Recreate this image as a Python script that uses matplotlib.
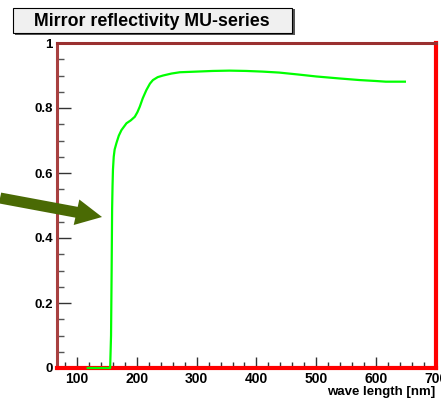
import matplotlib
matplotlib.use("Agg")
import matplotlib.pyplot as plt
from matplotlib.patches import Rectangle, FancyArrow
from matplotlib.ticker import MultipleLocator

plt.rcParams['font.family'] = ['Liberation Sans', 'DejaVu Sans']

# reflectivity curve
wavelength = [118, 150, 155.5, 157, 158, 158.8, 159.5, 160.2, 161.5, 163, 166,
              170, 174.4, 182.8, 190, 196.7, 201, 205, 210, 216, 222, 227, 235,
              244, 258, 272, 300, 327, 355, 383, 410, 438, 470, 500, 538, 572,
              600, 616, 648]
reflectivity = [0.0, 0.0, 0.0, 0.1, 0.3, 0.49, 0.56, 0.61, 0.65, 0.672, 0.692,
                0.715, 0.732, 0.753, 0.762, 0.773, 0.787, 0.804, 0.83, 0.855,
                0.875, 0.886, 0.895, 0.90, 0.906, 0.91, 0.912, 0.914, 0.915,
                0.914, 0.912, 0.909, 0.903, 0.897, 0.891, 0.886, 0.883, 0.881,
                0.881]

x_ticks = [100, 200, 300, 400, 500, 600, 700]
y_ticks = [0, 0.2, 0.4, 0.6, 0.8, 1.0]
y_tick_labels = ['0', '0.2', '0.4', '0.6', '0.8', '1']

W, H = 441, 405
fig = plt.figure(figsize=(W / 100, H / 100), dpi=100)


def fx(px):
    return px / W


def fy(py):
    return 1 - py / H


ax = fig.add_axes([fx(57), fy(368), fx(436) - fx(57), fy(43) - fy(368)])
ax.plot(wavelength, reflectivity, color='#00ff00', lw=1.6, zorder=5, clip_on=False)

ax.set_xlim(66.7, 700)
ax.set_ylim(0, 1)
ax.set_xticks(x_ticks)
ax.set_xticklabels([str(t) for t in x_ticks], fontweight='bold', fontsize=10)
ax.set_yticks(y_ticks)
ax.set_yticklabels(y_tick_labels, fontweight='bold', fontsize=9.5)
ax.xaxis.set_minor_locator(MultipleLocator(20))
ax.yaxis.set_minor_locator(MultipleLocator(0.05))
ax.tick_params(axis='x', which='major', direction='in', length=8, width=1, color='#333333', pad=3)
ax.tick_params(axis='x', which='minor', direction='in', length=4, width=1, color='#333333')
ax.tick_params(axis='y', which='major', direction='in', length=10, width=1, color='#333333', pad=3)
ax.tick_params(axis='y', which='minor', direction='in', length=5, width=1, color='#555555')

ax.spines['left'].set_color('#a84040')
ax.spines['left'].set_linewidth(2.2)
ax.spines['top'].set_color('#9a3030')
ax.spines['top'].set_linewidth(2.2)
ax.spines['right'].set_color('#ff0000')
ax.spines['right'].set_linewidth(3)
ax.spines['bottom'].set_color('#ff0000')
ax.spines['bottom'].set_linewidth(3)

fig.text(fx(435), fy(392), 'wave length [nm]', ha='right', va='center',
         fontweight='bold', fontsize=9.5)

# title box with shadow
fig.patches.append(Rectangle((fx(15), fy(35)), fx(280), fy(8) - fy(34),
                             transform=fig.transFigure, facecolor='#555555',
                             edgecolor='none', zorder=1))
fig.patches.append(Rectangle((fx(13), fy(33)), fx(279), fy(8) - fy(33),
                             transform=fig.transFigure, facecolor='#f0f0f0',
                             edgecolor='black', lw=0.8, zorder=2))
fig.text(fx(152), fy(21), 'Mirror reflectivity MU-series', ha='center', va='center',
         fontweight='bold', fontsize=12.8, zorder=3)

# arrow pointing at the edge
fig.patches.append(FancyArrow(fx(0), fy(198), fx(102) - fx(0), fy(217) - fy(198),
                              width=11 / H, head_width=26 / H, head_length=26 / W,
                              length_includes_head=True, transform=fig.transFigure,
                              facecolor='#4a6a04', edgecolor='none', zorder=10))

fig.savefig('out.png', dpi=100)
